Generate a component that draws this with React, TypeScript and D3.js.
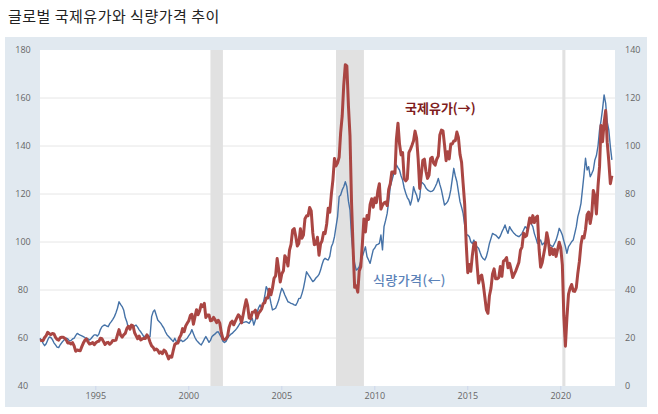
import React, { useRef, useEffect } from 'react';
import * as d3 from 'd3';

// first month of both series
const startMonth = new Date(1992, 0, 1);

// Global price of food index (2016 = 100), monthly, left axis
const foodIndex = [
	59.9, 59.0, 57.8, 56.8, 57.6, 59.2, 60.4, 60.2, 59.3, 58.0, 57.1, 56.2, // 1992
	56.0, 57.2, 58.0, 58.8, 59.5, 59.9, 59.6, 58.8, 59.0, 59.6, 59.9, 61.0, // 1993
	61.9, 61.5, 61.2, 60.9, 60.6, 60.2, 59.9, 59.6, 59.2, 59.8, 60.6, 61.3, // 1994
	61.3, 60.8, 61.6, 63.5, 64.7, 65.2, 65.4, 65.0, 64.7, 66.0, 66.8, 67.8, // 1995
	68.9, 70.5, 72.4, 75.1, 74.0, 73.1, 71.7, 68.5, 66.8, 64.0, 64.8, 65.4, // 1996
	64.7, 65.0, 65.4, 64.5, 63.4, 62.6, 61.6, 60.6, 60.9, 61.3, 60.8, 60.6, // 1997
	68.9, 71.0, 71.7, 69.6, 67.5, 66.8, 66.1, 65.0, 64.0, 62.5, 61.3, 60.6, // 1998
	59.9, 59.2, 58.5, 59.9, 58.6, 57.8, 58.6, 59.2, 58.5, 58.8, 59.4, 59.9, // 1999
	61.0, 61.9, 63.5, 61.8, 60.2, 59.0, 58.3, 57.6, 57.1, 58.2, 59.5, 60.6, // 2000
	59.4, 58.2, 59.0, 60.6, 61.2, 61.7, 62.4, 62.6, 61.4, 60.2, 58.7, 58.1, // 2001
	58.6, 59.9, 60.8, 61.5, 61.9, 62.6, 63.2, 64.0, 65.0, 66.1, 66.3, 66.4, // 2002
	66.6, 66.8, 66.5, 66.1, 67.2, 68.2, 65.4, 67.5, 70.3, 72.5, 73.8, 72.4, // 2003
	74.4, 77.5, 81.4, 80.0, 77.9, 74.5, 71.7, 72.0, 72.4, 74.0, 75.8, 78.5, // 2004
	80.7, 79.5, 77.9, 76.5, 75.1, 74.8, 74.4, 74.2, 73.8, 73.6, 74.8, 76.5, // 2005
	76.5, 78.5, 80.7, 84.0, 87.6, 86.5, 85.6, 84.5, 83.5, 84.0, 85.0, 85.6, // 2006
	86.5, 88.3, 90.5, 92.5, 93.2, 92.8, 92.5, 94.0, 98.0, 99.5, 102.2, 106.4, // 2007
	110.6, 118.9, 119.6, 121.7, 123.0, 125.1, 123.0, 117.0, 113.3, 102.2, 95.0, 91.1, // 2008
	88.3, 88.8, 89.7, 92.0, 93.9, 96.0, 98.0, 93.9, 92.5, 91.1, 94.0, 96.7, // 2009
	97.5, 98.8, 99.0, 99.4, 102.9, 96.7, 106.4, 109.0, 111.9, 117.0, 123.0, 125.5, // 2010
	127.9, 130.0, 132.1, 131.0, 130.0, 127.5, 125.8, 122.5, 120.3, 118.5, 117.5, 115.4, // 2011
	118.0, 123.0, 121.0, 119.5, 116.8, 118.5, 125.1, 124.5, 123.8, 122.5, 121.7, 121.3, // 2012
	121.0, 121.2, 121.7, 123.0, 124.4, 126.5, 124.0, 121.7, 118.5, 115.4, 116.0, 116.8, // 2013
	118.5, 121.7, 126.0, 130.7, 127.5, 125.1, 121.0, 116.8, 114.5, 111.9, 107.0, 102.9, // 2014
	102.9, 102.2, 100.1, 99.4, 100.8, 98.8, 98.0, 97.4, 95.5, 93.9, 93.0, 92.5, // 2015
	93.9, 96.5, 99.4, 101.5, 103.6, 103.2, 102.9, 102.2, 101.5, 102.5, 104.2, 105.5, // 2016
	107.1, 105.0, 103.6, 106.4, 105.2, 104.3, 103.5, 102.9, 102.5, 102.2, 102.8, 103.6, // 2017
	105.0, 106.4, 105.7, 107.0, 108.5, 107.5, 106.4, 103.5, 101.5, 99.4, 100.2, 100.8, // 2018
	98.8, 99.5, 100.1, 100.8, 100.0, 98.8, 98.4, 98.1, 99.5, 100.8, 103.0, 105.7, // 2019
	104.5, 102.9, 100.5, 98.1, 95.3, 98.1, 99.0, 100.1, 100.8, 103.5, 106.4, 110.6, // 2020
	113.0, 116.1, 121.7, 128.0, 134.9, 130.0, 131.4, 127.2, 128.5, 130.0, 134.2, 136.0, // 2021
	140.0, 146.7, 150.5, 155.5, 161.3, 157.8, 150.0, 146.7, 139.7, 134.2, // 2022
];

// Crude oil price (USD per barrel), monthly, right axis
const oilPrice = [
	18.8, 19.0, 18.9, 20.2, 21.0, 22.4, 21.8, 21.4, 21.9, 21.7, 20.3, 19.4, // 1992
	19.1, 20.1, 20.3, 20.3, 19.9, 19.1, 17.9, 18.0, 17.5, 18.1, 16.7, 14.5, // 1993
	15.0, 14.8, 14.7, 16.4, 17.9, 19.1, 19.7, 18.4, 17.5, 17.7, 18.1, 17.2, // 1994
	18.0, 18.5, 18.6, 19.9, 19.7, 18.5, 17.3, 18.0, 18.2, 17.4, 18.0, 19.0, // 1995
	18.9, 19.1, 21.3, 23.5, 21.2, 20.4, 21.3, 21.9, 23.9, 24.9, 23.7, 25.4, // 1996
	25.1, 22.2, 21.0, 19.7, 20.8, 19.2, 19.6, 19.9, 19.8, 21.3, 20.2, 18.3, // 1997
	16.7, 16.1, 15.0, 15.4, 14.9, 13.7, 14.2, 13.5, 15.0, 14.4, 12.9, 11.3, // 1998
	12.5, 12.0, 14.7, 17.3, 17.8, 17.9, 20.1, 21.3, 23.9, 22.6, 25.0, 26.1, // 1999
	27.2, 29.4, 29.9, 25.7, 28.8, 31.8, 29.7, 31.3, 33.9, 33.1, 34.4, 28.5, // 2000
	29.6, 29.6, 27.2, 27.4, 28.6, 27.6, 26.4, 27.4, 26.2, 22.2, 19.6, 19.3, // 2001
	19.7, 20.7, 24.4, 26.3, 27.0, 25.5, 26.9, 28.4, 29.7, 28.9, 26.3, 29.4, // 2002
	32.9, 35.9, 33.6, 28.3, 28.1, 30.7, 30.8, 31.6, 28.3, 30.3, 31.1, 32.1, // 2003
	34.3, 34.7, 36.7, 36.7, 40.3, 38.0, 40.7, 44.9, 45.9, 53.1, 48.5, 43.3, // 2004
	46.8, 48.0, 54.3, 53.0, 50.0, 56.6, 59.0, 65.0, 65.6, 62.4, 58.3, 59.4, // 2005
	65.5, 61.6, 62.9, 69.7, 70.9, 70.9, 74.4, 73.0, 63.8, 58.9, 59.1, 62.0, // 2006
	54.5, 59.3, 60.4, 64.0, 63.5, 67.5, 74.1, 72.4, 79.9, 85.8, 94.8, 91.7, // 2007
	93.0, 95.4, 105.5, 112.6, 125.4, 133.9, 133.4, 116.7, 104.1, 76.6, 57.3, 41.1, // 2008
	41.7, 39.1, 47.9, 49.7, 59.0, 69.6, 64.2, 71.0, 69.4, 75.7, 78.0, 74.5, // 2009
	78.3, 76.4, 81.2, 84.3, 73.7, 75.3, 76.3, 76.6, 75.2, 81.9, 84.3, 89.2, // 2010
	89.2, 88.6, 102.9, 109.5, 100.9, 96.3, 97.3, 86.3, 85.5, 86.3, 97.2, 98.6, // 2011
	100.3, 102.2, 106.2, 103.3, 94.7, 82.3, 87.9, 94.1, 94.5, 89.5, 86.5, 87.9, // 2012
	94.8, 95.3, 92.9, 92.0, 94.5, 95.8, 104.6, 106.6, 106.3, 100.5, 93.9, 97.6, // 2013
	94.6, 100.8, 100.8, 102.1, 102.2, 105.8, 103.6, 96.5, 93.2, 84.4, 75.8, 59.3, // 2014
	47.2, 50.6, 47.8, 54.5, 59.3, 59.8, 50.9, 42.9, 45.5, 46.2, 42.4, 37.2, // 2015
	31.7, 30.3, 37.6, 40.8, 46.7, 48.8, 44.7, 44.7, 45.2, 49.8, 45.7, 52.0, // 2016
	52.5, 53.5, 49.3, 51.1, 48.5, 45.2, 46.6, 48.0, 49.8, 51.6, 56.6, 57.9, // 2017
	63.7, 62.2, 62.7, 66.3, 70.0, 67.9, 71.0, 68.1, 70.2, 70.8, 57.0, 49.5, // 2018
	51.4, 55.0, 58.2, 63.9, 60.8, 54.7, 57.4, 54.8, 57.0, 54.0, 57.0, 59.9, // 2019
	57.5, 50.5, 29.2, 16.6, 28.5, 38.3, 40.7, 42.3, 39.6, 39.4, 41.0, 47.0, // 2020
	52.0, 59.0, 62.3, 61.7, 65.2, 71.4, 72.5, 67.7, 71.6, 81.5, 79.2, 71.7, // 2021
	83.2, 91.6, 108.5, 101.8, 109.6, 114.8, 101.6, 93.7, 84.3, 87.6, // 2022
];

const leftTicks = [40, 60, 80, 100, 120, 140, 160, 180];
const rightTicks = [0, 20, 40, 60, 80, 100, 120, 140];
const yearTicks = [1995, 2000, 2005, 2010, 2015, 2020];

// recession shading (start month, end month)
const recessions: [string, string][] = [
	['2001-03-01', '2001-11-01'],
	['2007-12-01', '2009-06-01'],
	['2020-02-01', '2020-04-01'],
];

const title = '글로벌 국제유가와 식량가격 추이';
const oilLabel = '국제유가(→)';
const foodLabel = '식량가격(←)';

const W = 658;
const H = 414;
const plot = { left: 40, right: 615, top: 50, bottom: 386 };
const numFont = '"Open Sans", "DejaVu Sans", sans-serif';
const krFont = '"Noto Sans CJK KR", "Noto Sans", sans-serif';

const App: React.FC = () => {
	const svgRef = useRef<SVGSVGElement | null>(null);

	useEffect(() => {
		const svg = d3.select(svgRef.current);
		svg.selectAll('*').remove();

		const parse = d3.timeParse('%Y-%m-%d');
		const monthAt = (i: number) => d3.timeMonth.offset(startMonth, i);

		const x = d3
			.scaleTime()
			.domain([startMonth, new Date(2022, 11, 1)])
			.range([plot.left, plot.right]);
		const yLeft = d3.scaleLinear().domain([40, 180]).range([plot.bottom, plot.top]);
		const yRight = d3.scaleLinear().domain([0, 140]).range([plot.bottom, plot.top]);

		// title
		svg.append('text')
			.attr('x', 8)
			.attr('y', 22)
			.attr('font-family', krFont)
			.attr('font-size', 15)
			.attr('letter-spacing', 0.5)
			.attr('fill', '#222')
			.text(title);

		// outer panel
		svg.append('rect')
			.attr('x', 5)
			.attr('y', 37)
			.attr('width', 642)
			.attr('height', 370)
			.attr('fill', '#e1e9f0');

		svg.append('rect')
			.attr('x', plot.left)
			.attr('y', plot.top)
			.attr('width', plot.right - plot.left)
			.attr('height', plot.bottom - plot.top)
			.attr('fill', '#fff');

		// horizontal grid
		svg.append('g')
			.selectAll('line')
			.data(leftTicks.slice(1, -1))
			.join('line')
			.attr('x1', plot.left)
			.attr('x2', plot.right)
			.attr('y1', (d) => yLeft(d))
			.attr('y2', (d) => yLeft(d))
			.attr('stroke', '#e6e6e6')
			.attr('stroke-width', 1);

		// recessions
		svg.append('g')
			.selectAll('rect')
			.data(recessions)
			.join('rect')
			.attr('x', (d) => x(parse(d[0]) as Date))
			.attr('width', (d) => x(parse(d[1]) as Date) - x(parse(d[0]) as Date))
			.attr('y', plot.top)
			.attr('height', plot.bottom - plot.top)
			.attr('fill', '#e1e1e1');

		// left axis labels
		svg.append('g')
			.selectAll('text')
			.data(leftTicks)
			.join('text')
			.attr('x', 23)
			.attr('y', (d) => yLeft(d))
			.attr('dy', '0.35em')
			.attr('text-anchor', 'middle')
			.attr('font-family', numFont)
			.attr('font-size', 9)
			.attr('fill', '#666')
			.text((d) => d);

		// right axis labels
		svg.append('g')
			.selectAll('text')
			.data(rightTicks)
			.join('text')
			.attr('x', 625)
			.attr('y', (d) => yRight(d))
			.attr('dy', '0.35em')
			.attr('text-anchor', 'start')
			.attr('font-family', numFont)
			.attr('font-size', 9)
			.attr('fill', '#666')
			.text((d) => d);

		// bottom axis
		const xg = svg.append('g');
		xg.selectAll('line')
			.data(yearTicks)
			.join('line')
			.attr('x1', (d) => x(new Date(d, 0, 1)))
			.attr('x2', (d) => x(new Date(d, 0, 1)))
			.attr('y1', plot.bottom)
			.attr('y2', plot.bottom + 4)
			.attr('stroke', '#ccd6eb');
		xg.selectAll('text')
			.data(yearTicks)
			.join('text')
			.attr('x', (d) => x(new Date(d, 0, 1)))
			.attr('y', 399)
			.attr('text-anchor', 'middle')
			.attr('font-family', numFont)
			.attr('font-size', 9)
			.attr('fill', '#666')
			.text((d) => d);

		// food index line
		const foodLine = d3
			.line<number>()
			.x((_, i) => x(monthAt(i)))
			.y((d) => yLeft(d));
		svg.append('path')
			.datum(foodIndex)
			.attr('d', foodLine)
			.attr('fill', 'none')
			.attr('stroke', '#4572a7')
			.attr('stroke-width', 1.4)
			.attr('stroke-linejoin', 'round');

		// oil price line
		const oilLine = d3
			.line<number>()
			.x((_, i) => x(monthAt(i)))
			.y((d) => yRight(d));
		svg.append('path')
			.datum(oilPrice)
			.attr('d', oilLine)
			.attr('fill', 'none')
			.attr('stroke', '#aa4643')
			.attr('stroke-width', 3)
			.attr('stroke-linejoin', 'round');

		// series labels
		svg.append('text')
			.attr('x', 405)
			.attr('y', 113)
			.attr('font-family', krFont)
			.attr('font-size', 13)
			.attr('font-weight', 'bold')
			.attr('fill', '#7f1d1d')
			.text(oilLabel);

		svg.append('text')
			.attr('x', 373)
			.attr('y', 285)
			.attr('font-family', krFont)
			.attr('font-size', 13)
			.attr('font-weight', 500)
			.attr('letter-spacing', 0.4)
			.attr('fill', '#5b82b8')
			.text(foodLabel);
	}, []);

	return (
		<svg
			ref={svgRef}
			width={W}
			height={H}
			style={{ position: 'absolute', left: 0, top: 0, background: '#fff' }}
		/>
	);
};

export default App;
